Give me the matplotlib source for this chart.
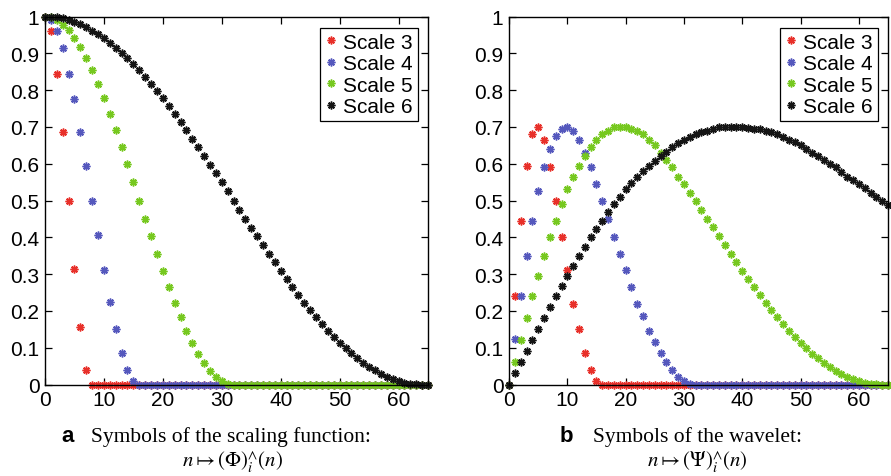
"""Scaling-function and wavelet symbols for scales 3-6 (two panels)."""
import numpy as np
import matplotlib
matplotlib.use("Agg")
import matplotlib.pyplot as plt

plt.rcParams["font.family"] = ["Liberation Sans", "DejaVu Sans"]
plt.rcParams["mathtext.fontset"] = "stix"

# sample index n = 0..65
n = np.arange(66)

# panel a: symbols of the scaling function (flat at zero after the support)
phi3 = [1.0, 0.96, 0.845, 0.685, 0.5, 0.315, 0.155, 0.04] + [0.0] * 58
phi4 = [1.0, 0.99, 0.96, 0.915, 0.845, 0.775, 0.685, 0.595, 0.5, 0.405,
        0.31, 0.225, 0.15, 0.085, 0.04, 0.01] + [0.0] * 50
phi5 = [1.0, 0.998, 0.99, 0.978, 0.962, 0.941, 0.916, 0.886, 0.854, 0.817,
        0.778, 0.736, 0.691, 0.645, 0.598, 0.549, 0.5, 0.451, 0.4025, 0.355,
        0.309, 0.264, 0.222, 0.183, 0.146, 0.1135, 0.084, 0.059, 0.038, 0.0215,
        0.0096, 0.0024] + [0.0] * 34
phi6 = [1.0, 0.9994, 0.9976, 0.9946, 0.9904, 0.985, 0.9785, 0.9708, 0.9619, 0.952,
        0.941, 0.9289, 0.9157, 0.9016, 0.8865, 0.8705, 0.8536, 0.8358, 0.8172, 0.7979,
        0.7778, 0.7571, 0.7357, 0.7138, 0.6913, 0.6684, 0.6451, 0.6215, 0.5975, 0.5734,
        0.549, 0.5245, 0.5, 0.4755, 0.451, 0.4266, 0.4025, 0.3785, 0.3549, 0.3316,
        0.3087, 0.2862, 0.2643, 0.2429, 0.2222, 0.2021, 0.1828, 0.1642, 0.1464, 0.1295,
        0.1135, 0.0984, 0.0843, 0.0711, 0.059, 0.048, 0.0381, 0.0292, 0.0215, 0.015,
        0.0096, 0.0054, 0.0024, 0.0006, 0.0, 0.0]

# panel b: symbols of the wavelet
psi3 = [0.0, 0.24, 0.445, 0.595, 0.68, 0.70, 0.665, 0.59, 0.50, 0.40,
        0.31, 0.22, 0.15, 0.085, 0.04, 0.01] + [0.0] * 50
psi4 = [0.0, 0.125, 0.24, 0.35, 0.445, 0.525, 0.59, 0.64, 0.675, 0.695,
        0.70, 0.69, 0.665, 0.63, 0.59, 0.545, 0.50, 0.45, 0.40, 0.355,
        0.31, 0.265, 0.22, 0.185, 0.145, 0.115, 0.085, 0.06, 0.04, 0.02,
        0.01, 0.002] + [0.0] * 34
psi5 = [0.0, 0.06, 0.12, 0.18, 0.24, 0.295, 0.35, 0.40, 0.445, 0.49,
        0.53, 0.565, 0.595, 0.62, 0.645, 0.665, 0.68, 0.69, 0.70, 0.70,
        0.70, 0.695, 0.69, 0.68, 0.665, 0.65, 0.63, 0.61, 0.59, 0.565,
        0.545, 0.52, 0.5, 0.475, 0.451, 0.427, 0.4025, 0.3785, 0.355, 0.332,
        0.309, 0.286, 0.264, 0.243, 0.222, 0.202, 0.183, 0.164, 0.146, 0.130,
        0.1135, 0.098, 0.084, 0.071, 0.059, 0.048, 0.038, 0.029, 0.0215, 0.015,
        0.0096, 0.0054, 0.0024, 0.0006, 0.0, 0.0]
psi6 = [0.0, 0.03, 0.06, 0.09, 0.12, 0.15, 0.18, 0.21, 0.24, 0.267,
        0.295, 0.323, 0.35, 0.375, 0.40, 0.423, 0.445, 0.468, 0.49, 0.51,
        0.53, 0.548, 0.565, 0.58, 0.595, 0.608, 0.62, 0.633, 0.645, 0.655,
        0.665, 0.673, 0.68, 0.685, 0.69, 0.695, 0.70, 0.70, 0.70, 0.70,
        0.70, 0.698, 0.695, 0.693, 0.69, 0.685, 0.68, 0.673, 0.665, 0.658,
        0.65, 0.64, 0.63, 0.62, 0.61, 0.60, 0.59, 0.578, 0.565, 0.555,
        0.545, 0.533, 0.52, 0.51, 0.50, 0.488]

labels = ["Scale 3", "Scale 4", "Scale 5", "Scale 6"]
colors = ["#e8302a", "#5558bd", "#76c81f", "#151515"]
y_ticks = [0, 0.1, 0.2, 0.3, 0.4, 0.5, 0.6, 0.7, 0.8, 0.9, 1]
y_labels = ["0", "0.1", "0.2", "0.3", "0.4", "0.5", "0.6", "0.7", "0.8", "0.9", "1"]

fig = plt.figure(figsize=(8.91, 4.77), dpi=100)
axA = fig.add_axes([0.0505, 0.1918, 0.4299, 0.7715])
axB = fig.add_axes([0.5713, 0.1918, 0.4254, 0.7715])

star = (8, 2, 0)
for ax, series in ((axA, [phi3, phi4, phi5, phi6]), (axB, [psi3, psi4, psi5, psi6])):
    for y, c, lab in zip(series, colors, labels):
        ax.plot(n, y, linestyle="none", marker=star, markersize=5.6,
                markeredgewidth=1.1, color=c, label=lab, clip_on=False)
    ax.set_xlim(0, 65)
    ax.set_ylim(0, 1)
    ax.set_xticks([0, 10, 20, 30, 40, 50, 60])
    ax.set_yticks(y_ticks)
    ax.set_yticklabels(y_labels)
    ax.tick_params(direction="in", length=5, width=0.9, labelsize=15,
                   top=True, right=True, pad=4)
    for s in ax.spines.values():
        s.set_linewidth(1.0)
    leg = ax.legend(loc="upper right", bbox_to_anchor=(1 - 10 / 380, 1 - 11 / 368),
                    borderaxespad=0, fontsize=15, labelspacing=0.12,
                    handlelength=0.5, handletextpad=0.35, borderpad=0.25,
                    fancybox=False, framealpha=1, edgecolor="black",
                    markerscale=1.0)
    leg.get_frame().set_linewidth(0.9)

# captions
fig.text(61 / 891, 1 - 437 / 477, "a", fontsize=16, fontweight="bold",
         ha="left", va="center")
fig.text(91 / 891, 1 - 437 / 477, "Symbols of the scaling function:",
         family="Liberation Serif", fontsize=15.5, ha="left", va="center")
fig.text(233 / 891, 1 - 462 / 477, r"$n \mapsto (\Phi)_{i}^{\wedge}(n)$",
         fontsize=15, ha="center", va="center")

fig.text(560 / 891, 1 - 437 / 477, "b", fontsize=16, fontweight="bold",
         ha="left", va="center")
fig.text(593 / 891, 1 - 437 / 477, "Symbols of the wavelet:",
         family="Liberation Serif", fontsize=15.5, ha="left", va="center")
fig.text(697 / 891, 1 - 462 / 477, r"$n \mapsto (\Psi)_{i}^{\wedge}(n)$",
         fontsize=15, ha="center", va="center")

fig.savefig("out.png", dpi=100)
